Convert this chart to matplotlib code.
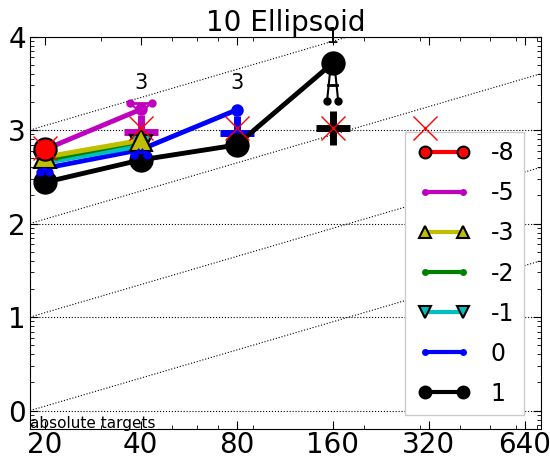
import numpy as np
import matplotlib
matplotlib.use("Agg")
import matplotlib.pyplot as plt
from matplotlib.ticker import FixedLocator, FixedFormatter, NullFormatter, LogLocator
from matplotlib.legend_handler import HandlerLine2D
from matplotlib.transforms import IdentityTransform

# dimensions on the x axis
dims = [20, 40, 80, 160, 320, 640]
tick_labels = ['20', '40', '80', '160', '320', '640']

# targets, from hardest to easiest (legend order)
target_labels = ['-8', '-5', '-3', '-2', '-1', '0', '1']

# log10(ERT / dim) for each target, at the dims where it was reached
ert_red = [2.80]
ert_magenta = [2.79, 3.22]
ert_yellow = [2.71, 2.89]
ert_green = [2.68, 2.88]
ert_cyan = [2.65, 2.83]
ert_blue = [2.59, 2.79, 3.215]
ert_black = [2.44, 2.68, 2.84, 3.715]

# median of runlengths where not all trials succeeded (log10)
median_dims = [40, 80, 160]
median_vals = [2.98, 2.97, 3.02]
median_colors = ['m', 'b', 'k']
n_success = [3, 3, 1]

# reference algorithm (log10)
ref_dims = [20, 40, 80, 160]
ref_vals = [2.81, 3.02, 3.02, 3.02]

# percentile whiskers: dim, ERT, dots value, bar value, colour, half spread (log2)
wh_dims = [20, 40, 40, 160]
wh_from = [2.59, 2.79, 3.22, 3.715]
wh_dots = [2.55, 2.73, 3.29, 3.31]
wh_bars = [2.57, 2.76, 3.29, 3.48]
wh_colors = ['b', 'b', 'm', 'k']
wh_spread = [0.045, 0.065, 0.115, 0.058]

series = [ert_black, ert_blue, ert_cyan, ert_green, ert_yellow, ert_magenta, ert_red]
styles = [
    {'color': 'k', 'marker': 'o', 'markeredgecolor': 'k', 'big': True},
    {'color': 'b', 'marker': 'o', 'markeredgecolor': 'b', 'big': False},
    {'color': 'c', 'marker': 'v', 'markeredgecolor': 'k', 'big': True},
    {'color': 'g', 'marker': 'o', 'markeredgecolor': 'g', 'big': False},
    {'color': 'y', 'marker': '^', 'markeredgecolor': 'k', 'big': True},
    {'color': 'm', 'marker': 'o', 'markeredgecolor': 'm', 'big': False},
    {'color': 'r', 'marker': 'o', 'markeredgecolor': 'k', 'big': True},
]

fig = plt.figure(figsize=(5.5, 4.58), dpi=100)
ax = fig.add_axes([0.0545, 0.0627, 0.9291, 0.8576])
ax.set_xscale('log')
ax.set_yscale('log')

x_lo, x_hi = 18, 720
y_lo, y_hi = 10 ** -0.2, 10 ** 4

# diagonal reference lines
for i in range(0, 5):
    ax.plot([x_lo, x_hi], [10 ** i, 10 ** (i + np.log10(x_hi / x_lo))],
            'k:', linewidth=0.8)

# horizontal grid
for i in range(0, 5):
    ax.plot([x_lo, x_hi], [10 ** i, 10 ** i], 'k:', linewidth=0.8)

# ERT lines
for vals, st in zip(series, styles):
    xs = dims[:len(vals)]
    ys = [10 ** v for v in vals]
    ms = 16 if st['big'] else 9
    ax.plot(xs, ys, color=st['color'], marker=st['marker'], markersize=ms,
            markeredgecolor=st['markeredgecolor'], markeredgewidth=1.5 if st['big'] else 0,
            linewidth=3.5, zorder=3)

# medians
for d, v, c in zip(median_dims, median_vals, median_colors):
    ax.plot([d], [10 ** v], color=c, linestyle='', marker='+', markersize=24,
            markeredgewidth=5, zorder=2)

# whiskers
for d, v0, v1, vb, c, s in zip(wh_dims, wh_from, wh_dots, wh_bars, wh_colors, wh_spread):
    f = 2 ** s
    ax.plot([d * 2 ** (-s * 0.3), d / f], [10 ** v0, 10 ** v1], color=c, lw=1.5, zorder=3)
    ax.plot([d * 2 ** (s * 0.3), d * f], [10 ** v0, 10 ** v1], color=c, lw=1.5, zorder=3)
    ax.plot([d / f, d * f], [10 ** v1, 10 ** v1], color=c, linestyle='', marker='o',
            markersize=5, zorder=3)
    ax.plot([d / (1 + s * 0.6), d * (1 + s * 0.6)], [10 ** vb, 10 ** vb], color=c, lw=2, zorder=3)

# success numbers
for d, v, n in zip(median_dims, [ert_magenta[1], ert_blue[2], ert_black[3]], n_success):
    ax.text(d, 1.5 * 10 ** v, '%d' % n, ha='center', va='bottom', fontsize=15)

# reference algorithm
ax.plot(ref_dims, [10 ** v for v in ref_vals], color='r', linestyle='', marker='x',
        markersize=17, markeredgewidth=1, zorder=5)

# legend handles
handles = []
for st in reversed(styles):
    ms = 8.5 if st['big'] else 5
    h, = ax.plot([], [], color=st['color'], marker=st['marker'], markersize=ms,
                 markeredgecolor=st['markeredgecolor'],
                 markeredgewidth=1.5 if st['big'] else 0, linewidth=3)
    handles.append(h)
leg = ax.legend(handles, target_labels, loc='lower right',
                bbox_to_anchor=(0.967, 0.036), numpoints=2, fontsize=17,
                handlelength=2.02, handletextpad=1.2, labelspacing=0.68,
                borderaxespad=0, borderpad=0.4, fancybox=False, framealpha=1,
                handler_map={h: HandlerLine2D(marker_pad=0, xpad=0.41) for h in handles})
leg.get_frame().set_edgecolor('0.8')

ax.set_xlim(x_lo, x_hi)
ax.set_ylim(y_lo, y_hi)
ax.xaxis.set_major_locator(FixedLocator(dims))
ax.xaxis.set_major_formatter(FixedFormatter(tick_labels))
ax.xaxis.set_minor_formatter(NullFormatter())
ax.yaxis.set_major_locator(FixedLocator([10 ** i for i in range(5)]))
ax.yaxis.set_major_formatter(FixedFormatter([str(i) for i in range(5)]))
ax.yaxis.set_minor_locator(LogLocator(base=10, subs=np.arange(2, 10)))
ax.yaxis.set_minor_formatter(NullFormatter())
ax.tick_params(which='both', direction='in', top=True, right=True, labelsize=20)
ax.tick_params(axis='x', pad=1)
ax.tick_params(axis='y', pad=3)
ax.tick_params(which='major', length=6)
ax.tick_params(which='minor', length=3)

ax.text(0.0, 0.004, 'absolute targets', transform=ax.transAxes, fontsize=11,
        ha='left', va='baseline')
ax.set_title('10 Ellipsoid', fontsize=20, pad=4)

# reference algorithm marker sitting on top of the legend box
fig.canvas.draw()
lb = leg.get_window_extent()
ax.plot([lb.x0 + 20], [lb.y1 + 4], transform=IdentityTransform(), color='r',
        linestyle='', marker='x', markersize=17, markeredgewidth=1, clip_on=False, zorder=6)

fig.savefig('out.png', dpi=100)
